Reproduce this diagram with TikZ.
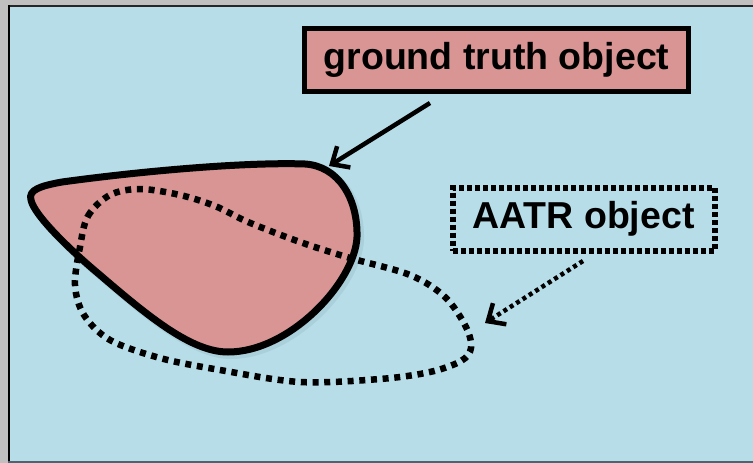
\documentclass[tikz,border=0pt]{standalone}
\usepackage{fontspec}
\setmainfont{Liberation Sans}
\usetikzlibrary{arrows.meta}
\definecolor{outergray}{HTML}{C0C0C0}
\definecolor{panelblue}{HTML}{B7DDE8}
\definecolor{gtpink}{HTML}{D99594}
\definecolor{shadowblue}{HTML}{8FB4C0}
\definecolor{bottomline}{HTML}{4D6470}
\tikzset{
  labelbox/.style={draw=black, line width=5.5pt, minimum width=384pt, minimum height=63pt, inner sep=0pt,
    font=\bfseries\fontsize{37.5}{40}\selectfont},
  dotbox/.style={draw=black, line width=6pt, dash pattern=on 5pt off 3pt, inner sep=0pt,
    minimum width=262pt, minimum height=63pt, font=\bfseries\fontsize{37.5}{40}\selectfont},
  gtoutline/.style={draw=black, line width=7pt, fill=gtpink, line join=round},
  aatroutline/.style={draw=black, line width=6.5pt, dash pattern=on 6pt off 5.7pt},
  shadowline/.style={draw=shadowblue, opacity=0.3, line width=8pt},
  solidarrow/.style={draw=black, line width=4.5pt, -{Straight Barb[length=14pt,width=25pt,line width=4.5pt]}},
  dotarrow/.style={draw=black, line width=4.5pt, dash pattern=on 4pt off 3.5pt, -{Straight Barb[length=14pt,width=25pt,line width=4.5pt]}}
}
\begin{document}
\begin{tikzpicture}[x=1pt,y=-1pt]
\useasboundingbox (0,0) rectangle (753,463);
\fill[outergray] (0,0) rectangle (753,463);
\fill[panelblue] (9,6) rectangle (760,461);
\draw[black!85, line width=2pt] (8,5.5) -- (760,5.5);
\draw[black, line width=2.5pt] (9,5) -- (9,461);
\draw[bottomline, line width=2pt] (8,461.5) -- (760,461.5);

% ground truth object shape (shadow then shape)
\def\gtpath{(31,200) .. controls (28,190) and (40,186) .. (62,182)
  .. controls (150,170) and (250,162) .. (305,164)
  .. controls (338,166) and (358,198) .. (357,237)
  .. controls (355,282) and (290,352) .. (228,352)
  .. controls (192,352) and (150,318) .. (100,275)
  .. controls (70,250) and (34,215) .. (31,200) -- cycle}
\draw[shadowline, xshift=3pt, yshift=-3pt] \gtpath;
\draw[gtoutline] \gtpath;

% AATR object shape
\def\aatrshape{(80,247) (88,216) (110,195) (140,189) (180,195) (215,206) (248,222) (300,242) (350,258) (410,275) (445,297) (466,327) (471,348) (461,361) (430,372) (380,379) (300,382) (220,370) (160,358) (110,340) (84,315) (75,285)}
\draw[aatroutline] plot[smooth cycle, tension=0.55] coordinates {\aatrshape};

% label boxes
\node[labelbox, fill=gtpink] (gtbox) at (496.5,60) {ground truth object};
\node[dotbox] (aatrbox) at (583.5,219) {AATR object};

% connectors
\coordinate (gtstart) at (430,103);
\coordinate (gttip) at (329,166);
\coordinate (aatrstart) at (583,261);
\coordinate (aatrtip) at (485,323);
\draw[solidarrow] (gtstart) -- (gttip);
\draw[dotarrow] (aatrstart) -- (aatrtip);
\end{tikzpicture}
\end{document}
